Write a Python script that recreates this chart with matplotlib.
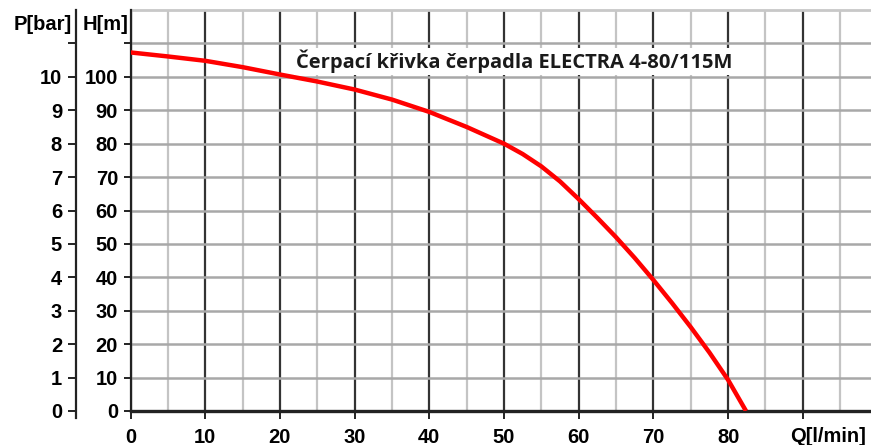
import matplotlib.pyplot as plt
from matplotlib.ticker import MultipleLocator

# Pump curve
flow = [0, 5, 10, 15, 20, 25, 30, 35, 40, 45, 50, 52.5, 55, 57.5, 60, 62.5,
        65, 67.5, 70, 72.5, 75, 77.5, 80, 82.4]
head = [107.3, 106.1, 104.8, 102.9, 100.7, 98.6, 96.2, 93.2, 89.5, 85.0, 80.0,
        76.9, 73.2, 68.7, 63.4, 57.8, 52.0, 45.8, 39.2, 32.3, 25.1, 17.5, 9.3, 0]

x_ticks = [0, 10, 20, 30, 40, 50, 60, 70, 80, 90]
x_labels = ["0", "10", "20", "30", "40", "50", "60", "70", "80", ""]
h_ticks = [0, 10, 20, 30, 40, 50, 60, 70, 80, 90, 100, 110]
h_labels = ["0", "10", "20", "30", "40", "50", "60", "70", "80", "90", "100", ""]
p_ticks = [0, 1, 2, 3, 4, 5, 6, 7, 8, 9, 10, 11]
p_labels = ["0", "1", "2", "3", "4", "5", "6", "7", "8", "9", "10", ""]

title = "Čerpací křivka čerpadla ELECTRA 4-80/115M"

W, H = 871, 445
fig = plt.figure(figsize=(W / 100, H / 100), dpi=100)
x0, x1, y0, y1 = 130.5, 871, 411, 10
ax = fig.add_axes([x0 / W, 1 - y0 / H, (x1 - x0) / W, (y0 - y1) / H])
ax.set_xlim(0, (x1 - x0) / 7.47)
ax.set_ylim(0, 120)

lab_font = dict(family="Liberation Sans", weight="bold", size=14.5)

# grid
ax.xaxis.set_minor_locator(MultipleLocator(5))
ax.grid(which="minor", axis="x", color="#c4c4c4", lw=1.6)
ax.grid(which="major", axis="x", color="#333333", lw=1.6)
ax.yaxis.set_major_locator(MultipleLocator(10))
ax.grid(which="major", axis="y", color="#a8a8a8", lw=1.8)
ax.set_axisbelow(True)
ax.axhline(120, color="#c8c8c8", lw=2, clip_on=False)

for s in ["top", "right"]:
    ax.spines[s].set_visible(False)
ax.spines["left"].set_color("#222222")
ax.spines["left"].set_linewidth(1.6)
ax.spines["bottom"].set_color("#222222")
ax.spines["bottom"].set_linewidth(2.4)

ax.set_xticks(x_ticks)
ax.set_xticklabels(x_labels, fontdict=lab_font)
ax.set_yticks(h_ticks)
ax.set_yticklabels(h_labels, fontdict=lab_font)
ax.tick_params(axis="x", which="major", length=6, width=1.4, color="#222222", pad=6)
ax.tick_params(axis="x", which="minor", length=0)
ax.tick_params(axis="y", length=5, width=1.4, color="#222222", pad=4)

ax.plot(flow, head, color="#ff0000", lw=3.2, solid_joinstyle="round",
        solid_capstyle="butt", zorder=3)

ax.text(51.3, 104.6, title, ha="center", va="center", fontsize=14.5,
        family="Open Sans", weight="bold", color="#1a1a1a",
        bbox=dict(facecolor="white", edgecolor="none", pad=1.0), zorder=4)

# pressure axis in bar
ax2 = ax.twinx()
ax2.set_ylim(0, 12)
ax2.yaxis.set_ticks_position("left")
ax2.yaxis.set_label_position("left")
ax2.spines["left"].set_position(("outward", (x0 - 76) * 0.72))
ax2.spines["left"].set_bounds(-0.2, 12)
ax2.spines["left"].set_color("#222222")
ax2.spines["left"].set_linewidth(1.6)
for s in ["top", "right", "bottom"]:
    ax2.spines[s].set_visible(False)
ax2.set_yticks(p_ticks)
ax2.set_yticklabels(p_labels, fontdict=lab_font)
ax2.tick_params(axis="y", length=6, width=1.4, color="#222222", pad=4)

fig.text(72 / W, 1 - 25 / H, "P[bar]", ha="right", va="center", **lab_font)
fig.text(128 / W, 1 - 25 / H, "H[m]", ha="right", va="center", **lab_font)
fig.text(790 / W, 1 - 437 / H, "Q[l/min]", ha="left", va="center", **lab_font)

fig.savefig("out.png", dpi=100)
